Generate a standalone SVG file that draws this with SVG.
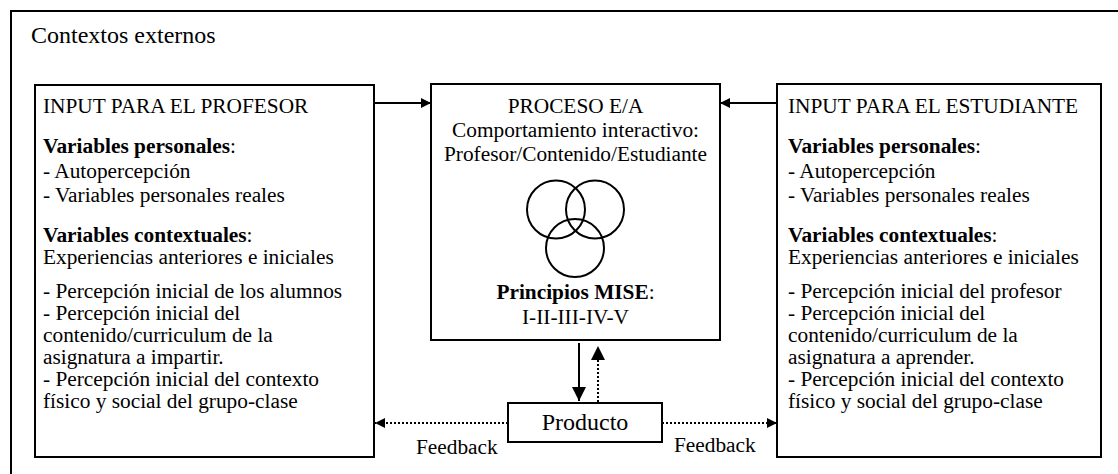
<svg xmlns="http://www.w3.org/2000/svg" width="1118" height="474" viewBox="0 0 1118 474">
<style>
text{font-family:"Liberation Serif","Times New Roman",serif;font-size:21.33px;fill:#000}
.big{font-size:24px}
.b{font-weight:bold}
.box{fill:#fff;stroke:#000;stroke-width:2}
.ln{fill:none;stroke:#000;stroke-width:2}
.dot{fill:none;stroke:#000;stroke-width:2;stroke-dasharray:2,2}
.c{text-anchor:middle}
</style>
<defs>
<marker id="ah" viewBox="0 0 10 10" refX="10" refY="5" markerWidth="10" markerHeight="12" markerUnits="userSpaceOnUse" orient="auto"><path d="M0,0 L10,5 L0,10 z" fill="#000"/></marker>
<marker id="ahv" viewBox="0 0 10 10" refX="10" refY="5" markerWidth="14" markerHeight="14" markerUnits="userSpaceOnUse" orient="auto"><path d="M0,0 L10,5 L0,10 z" fill="#000"/></marker>
</defs>
<rect width="1118" height="474" fill="#fff"/>
<g id="contextos">
<rect class="box" x="11" y="11" width="1120" height="480"/>
<text class="big" x="31" y="43">Contextos externos</text>
</g>
<g id="input-profesor">
<rect class="box" x="35" y="85" width="339" height="372"/>
<text x="43" y="113">INPUT PARA EL PROFESOR</text>
<text x="43" y="153"><tspan class="b">Variables personales</tspan>:</text>
<text x="43" y="178">- Autopercepción</text>
<text x="43" y="202">- Variables personales reales</text>
<text x="43" y="242"><tspan class="b">Variables contextuales</tspan>:</text>
<text x="43" y="264">Experiencias anteriores e iniciales</text>
<text x="43" y="298">- Percepción inicial de los alumnos</text>
<text x="43" y="320">- Percepción inicial del</text>
<text x="43" y="342">contenido/curriculum de la</text>
<text x="43" y="364">asignatura a impartir.</text>
<text x="43" y="386">- Percepción inicial del contexto</text>
<text x="43" y="408">físico y social del grupo-clase</text>
</g>
<g id="proceso">
<rect class="box" x="431" y="84" width="289" height="256"/>
<text class="c" x="575.5" y="113">PROCESO E/A</text>
<text class="c" x="575.5" y="137">Comportamiento interactivo:</text>
<text class="c" x="575.5" y="161">Profesor/Contenido/Estudiante</text>
<circle class="ln" cx="556" cy="209.5" r="29"/>
<circle class="ln" cx="595" cy="209.5" r="29"/>
<circle class="ln" cx="575" cy="248" r="29"/>
<text class="c" x="575.5" y="299"><tspan class="b">Principios MISE</tspan>:</text>
<text class="c" x="575.5" y="324">I-II-III-IV-V</text>
</g>
<g id="input-estudiante">
<rect class="box" x="777" y="84" width="324" height="373"/>
<text x="788" y="113">INPUT PARA EL ESTUDIANTE</text>
<text x="788" y="153"><tspan class="b">Variables personales</tspan>:</text>
<text x="788" y="178">- Autopercepción</text>
<text x="788" y="202">- Variables personales reales</text>
<text x="788" y="242"><tspan class="b">Variables contextuales</tspan>:</text>
<text x="788" y="264">Experiencias anteriores e iniciales</text>
<text x="788" y="298">- Percepción inicial del profesor</text>
<text x="788" y="320">- Percepción inicial del</text>
<text x="788" y="342">contenido/curriculum de la</text>
<text x="788" y="364">asignatura a aprender.</text>
<text x="788" y="386">- Percepción inicial del contexto</text>
<text x="788" y="408">físico y social del grupo-clase</text>
</g>
<g id="producto">
<rect class="box" x="508" y="403" width="154" height="39"/>
<text class="big c" x="585" y="430">Producto</text>
</g>
<g id="connectors">
<line class="ln" x1="374" y1="103" x2="431" y2="103" marker-end="url(#ah)"/>
<line class="ln" x1="777" y1="103" x2="720" y2="103" marker-end="url(#ah)"/>
<line class="ln" x1="579" y1="343" x2="579" y2="401" marker-end="url(#ahv)"/>
<line class="dot" x1="598" y1="402" x2="598" y2="346" marker-end="url(#ahv)"/>
<line class="dot" x1="508" y1="423" x2="375" y2="423" marker-end="url(#ah)"/>
<line class="dot" x1="662" y1="423" x2="777" y2="423" marker-end="url(#ah)"/>
<text x="416" y="454">Feedback</text>
<text x="674" y="452">Feedback</text>
</g>
</svg>
